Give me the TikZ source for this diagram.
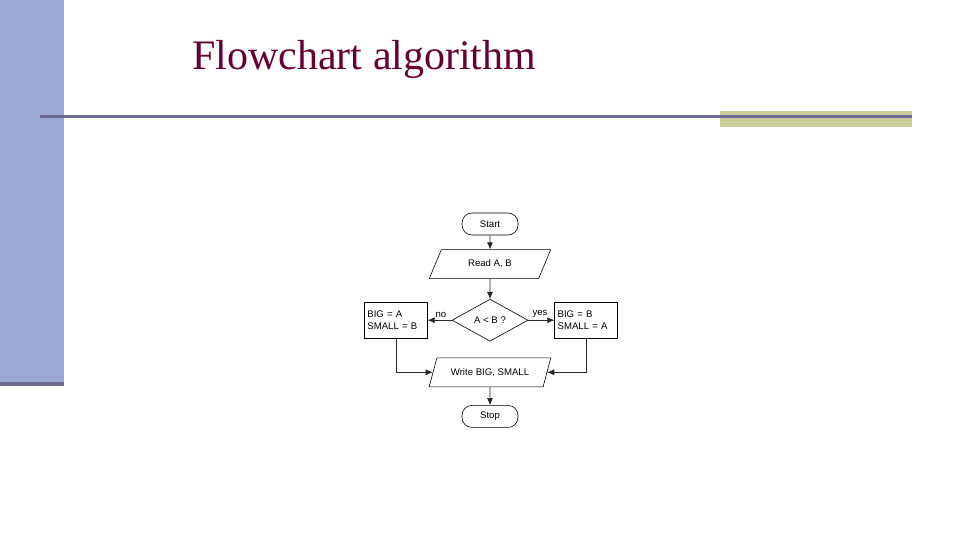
\documentclass[tikz,border=0pt]{standalone}
\usepackage{fontspec}
\setmainfont{Liberation Serif}
\setsansfont{Liberation Sans}
\usetikzlibrary{positioning,shapes.geometric,arrows.meta}

\definecolor{barblue}{RGB}{153,168,212}
\definecolor{bardark}{RGB}{108,108,146}
\definecolor{olive}{RGB}{204,204,153}
\definecolor{titlered}{RGB}{102,0,51}

\begin{document}
\begin{tikzpicture}[x=1pt,y=-1pt,
	>={Latex[length=7pt,width=6pt]},
	every node/.style={font=\sffamily\fontsize{9.6}{11.5}\selectfont, inner sep=2pt},
	flowline/.style={->, line width=0.6pt, black!85},
	terminal/.style={rectangle, rounded corners=10pt, draw, line width=0.6pt, minimum width=56pt, minimum height=22pt},
	inout/.style={trapezium, trapezium left angle=64, trapezium right angle=116, trapezium stretches=true, draw, line width=0.6pt, minimum width=122pt, minimum height=29pt},
	decision/.style={diamond, draw, line width=0.6pt, minimum width=76pt, minimum height=42pt, aspect=1.8},
	process/.style={rectangle, draw, line width=0.6pt, minimum width=63pt, minimum height=36pt, text width=57pt, align=left},
	]
	%Frame
	\useasboundingbox (0,0) rectangle (960,540);
	\fill[barblue] (0,0) rectangle (64,383);
	\fill[bardark] (0,382) rectangle (64,386);
	\fill[olive] (720,111) rectangle (912,127);
	\fill[bardark] (40,115.5) rectangle (912,118.5);
	\node[font=\fontsize{42}{48}\selectfont, text=titlered, anchor=base west, inner sep=0pt] (title) at (192,70) {Flowchart algorithm};

	%Nodes
	\node[terminal]   (start)  at (490,224)          {Start};
	\node[inout]      (read)   [below=14pt of start] {Read A, B};
	\node[decision]   (test)   [below=20pt of read]  {A \textless{} B ?};
	\node[process]    (bigA)   [left=24pt of test]   {BIG = A\\SMALL = B};
	\node[process]    (bigB)   [right=26pt of test]  {BIG = B\\SMALL = A};
	\node[inout]      (write)  [below=16pt of test]  {Write BIG, SMALL};
	\node[terminal]   (stop)   [below=18pt of write] {Stop};

	%Lines
	\draw[flowline] (start) -- (read);
	\draw[flowline] (read) -- (test);
	\draw[flowline] (test) -- node[above, pos=0.45, black] {no} (bigA);
	\draw[flowline] (test) -- node[above, pos=0.45, black] {yes} (bigB);
	\draw[flowline] (bigA.south) |- (write.west);
	\draw[flowline] (bigB.south) |- (write.east);
	\draw[flowline] (write) -- (stop);
\end{tikzpicture}
\end{document}
